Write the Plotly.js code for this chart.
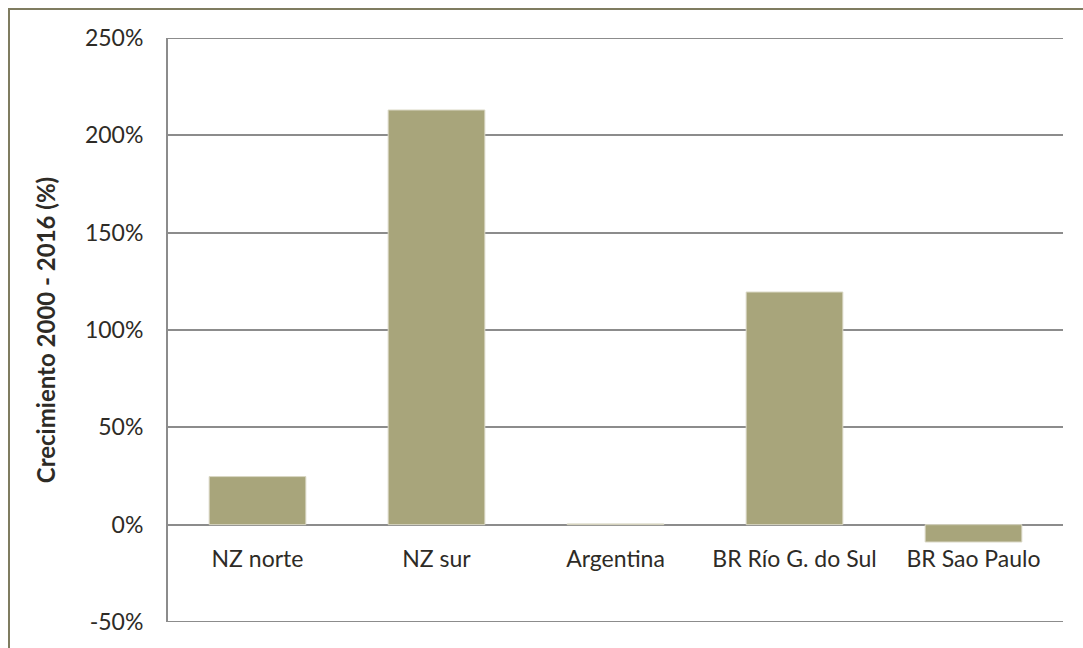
<!DOCTYPE html>
<html>
<head>
<meta charset="utf-8">
<script src="https://cdn.plot.ly/plotly-3.0.1.min.js"></script>
<style>
  html, body { margin: 0; padding: 0; background: #fff; }
  #wrap { position: relative; width: 1083px; height: 648px; overflow: hidden; }
  #chart { width: 1083px; height: 648px; }
  #frame {
    position: absolute; left: 8px; top: 8px; width: 1200px; height: 800px;
    border-left: 2px solid #7f7c60; border-top: 2px solid #7f7c60;
    pointer-events: none;
  }
</style>
</head>
<body>
<div id="wrap">
  <div id="chart"></div>
  <div id="frame"></div>
</div>
<script>
// Crecimiento 2000 - 2016 por región (fracción: 1 = 100%)
const regiones = ['NZ norte', 'NZ sur', 'Argentina', 'BR Río G. do Sul', 'BR Sao Paulo'];
const crecimiento = [0.247, 2.13, 0.004, 1.195, -0.089];
const ticksY = [-0.5, 0, 0.5, 1, 1.5, 2, 2.5];
const ticksYTexto = ['-50%', '0%', '50%', '100%', '150%', '200%', '250%'];

const fuente = 'Lato, "Open Sans", sans-serif';
const colorTexto = '#2e2b26';
const colorRejilla = '#8c8c8c';

const trace = {
  type: 'bar',
  x: regiones,
  y: crecimiento,
  marker: { color: '#a8a57b', line: { color: '#d9d7c4', width: 1 } },
  hoverinfo: 'x+y'
};

const yMin = ticksY[0], yMax = ticksY[ticksY.length - 1];

// líneas de rejilla en los extremos del eje
const bordes = [yMin, yMax].map(v => ({
  type: 'line', xref: 'paper', yref: 'y',
  x0: 0, x1: 1, y0: v, y1: v,
  line: { color: colorRejilla, width: 2 }, layer: 'below'
}));

const layout = {
  width: 1083,
  height: 648,
  margin: { l: 168, r: 20, t: 38, b: 26 },
  paper_bgcolor: '#ffffff',
  plot_bgcolor: '#ffffff',
  showlegend: false,
  bargap: 0.46,
  font: { family: fuente, size: 23, color: colorTexto },
  shapes: bordes,
  xaxis: {
    type: 'category',
    anchor: 'free',
    position: (0 - yMin) / (yMax - yMin),
    showline: false,
    showgrid: false,
    ticks: '',
    ticklabelstandoff: 18,
    tickfont: { family: fuente, size: 23, color: colorTexto }
  },
  yaxis: {
    range: [yMin, yMax],
    tickvals: ticksY,
    ticktext: ticksYTexto,
    showgrid: true,
    gridcolor: colorRejilla,
    gridwidth: 2,
    zeroline: false,
    showline: true,
    linecolor: colorRejilla,
    linewidth: 2,
    ticks: '',
    ticklabelstandoff: 18,
    tickfont: { family: fuente, size: 23, color: colorTexto },
    title: {
      text: '<b>Crecimiento 2000 - 2016 (%)</b>',
      font: { family: fuente, size: 24, color: colorTexto },
      standoff: 23
    }
  }
};

Plotly.newPlot('chart', [trace], layout, { displayModeBar: false, staticPlot: true });
</script>
</body>
</html>
